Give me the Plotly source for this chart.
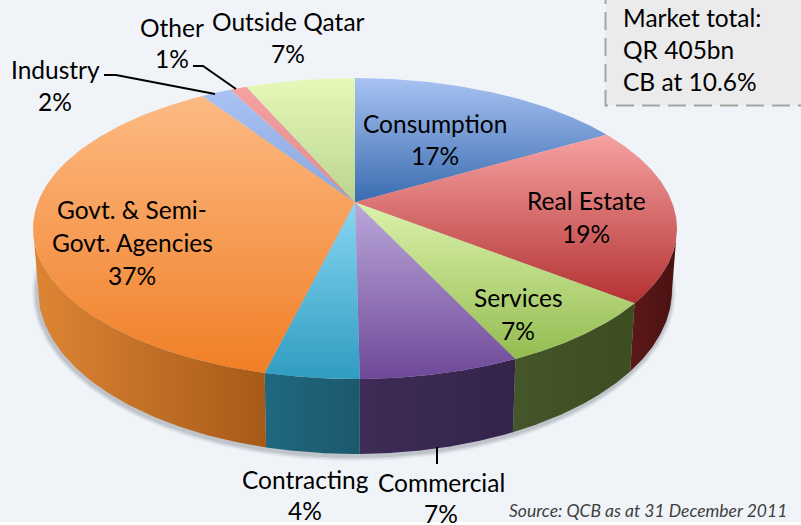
import numpy as np
import plotly.graph_objects as go

# ---- data ----
categories = ["Consumption", "Real Estate", "Services", "Commercial", "Contracting",
              "Govt. & Semi-Govt. Agencies", "Industry", "Other", "Outside Qatar"]
shares = [16.6, 19.0, 7.4, 6.8, 4.0, 36.9, 1.8, 1.0, 6.5]      # drawn slice size (estimated)
shown_pct = [17, 19, 7, 7, 4, 37, 2, 1, 7]                      # printed percentages
top_light = ["#a8c2f2", "#f6a2a2", "#dcf2ac", "#bba8da", "#8ad6f2", "#fdba84", "#a8c2f2", "#f6a2a2", "#e6f9b8"]
top_dark = ["#3a6cb0", "#b43232", "#94bc50", "#6e4898", "#2f9cc0", "#f07f26", "#8aa6dc", "#e08a8a", "#bcd490"]
side_left = ["#5c1818", "#5c1818", "#44562a", "#3e2c56", "#1f6880", "#dd8534", "#888888", "#888888", "#888888"]
side_right = ["#4a1212", "#4a1212", "#3c4d20", "#34244a", "#1c586c", "#a65a18", "#888888", "#888888", "#888888"]

BG = "#f0f4f8"
FONT = "Lato"
CX, CY, A, B = 355, 228.5, 322, 150.5      # upper face
BCY, BA, BB = 290, 317, 164                # lower edge of the rim
TILT = 0.175                               # perspective shift of the pie's apex


def rim_unit(theta):
    """Project clockwise angle (0 = up) through the perspective of the pie."""
    x, y = np.sin(theta), np.cos(theta)
    d = 1 + TILT * y
    return x * np.sqrt(1 - TILT ** 2) / d, (y + TILT) / d


def top_xy(u, v):
    return CX + A * u, CY - B * v


def bottom_xy(u, v):
    return CX + BA * u, BCY - BB * v


fig = go.Figure()

# soft shadow round the rim
t = np.linspace(0, 2 * np.pi, 240)
for grow, alpha in [(5, 0.07), (3.5, 0.10), (2, 0.14)]:
    fig.add_trace(go.Scatter(x=CX + (BA + grow) * np.sin(t) - 1, y=BCY + 2 + (BB + grow) * np.cos(t),
                             mode="lines", line=dict(width=0), fill="toself",
                             fillcolor=f"rgba(70,80,95,{alpha})", hoverinfo="skip"))

fractions = np.array(shares) / np.sum(shares)
edges = np.concatenate([[0], np.cumsum(fractions)]) * 2 * np.pi

# rim
for i in range(len(shares)):
    th = np.linspace(edges[i], edges[i + 1], 160)
    u, v = rim_unit(th)
    keep = v <= 0
    if keep.sum() < 2:
        continue
    tx, ty = top_xy(u[keep], v[keep])
    bx, by = bottom_xy(u[keep], v[keep])
    fig.add_trace(go.Scatter(
        x=np.concatenate([tx, bx[::-1]]), y=np.concatenate([ty, by[::-1]]),
        mode="lines", line=dict(width=0), fill="toself", hoverinfo="skip",
        fillgradient=dict(type="horizontal", colorscale=[[0, side_left[i]], [1, side_right[i]]])))

# upper face
ax, ay = top_xy(0.0, TILT)
for i in range(len(shares)):
    th = np.linspace(edges[i], edges[i + 1], 160)
    u, v = rim_unit(th)
    tx, ty = top_xy(u, v)
    fig.add_trace(go.Scatter(
        x=np.concatenate([[ax], tx, [ax]]), y=np.concatenate([[ay], ty, [ay]]),
        mode="lines", line=dict(width=0), fill="toself", hoverinfo="skip",
        fillgradient=dict(type="vertical", colorscale=[[0, top_dark[i]], [1, top_light[i]]])))

shapes = [
    dict(type="rect", x0=0, x1=801, y0=522, y1=525, fillcolor="#ffffff", line=dict(width=0), layer="above"),
    dict(type="rect", x0=605.5, x1=830, y0=-20, y1=105.5, fillcolor="#ebebeb",
         line=dict(color="#a3a3a3", width=2, dash="18px,8px"), layer="above"),
    dict(type="path", path="M104,75 L116,75 L215,94", line=dict(color="#000000", width=2), layer="above"),
    dict(type="path", path="M193,66 L203,66 L236,89", line=dict(color="#000000", width=2), layer="above"),
    dict(type="line", x0=437, x1=437, y0=447, y1=464, line=dict(color="#000000", width=2), layer="above"),
]


def label(x, y, text, anchor="center", size=24.5, color="#000000", italic=False):
    return dict(x=x, y=y, text=f"<i>{text}</i>" if italic else text, showarrow=False,
                xanchor=anchor, yanchor="middle", font=dict(family=FONT, size=size, color=color))


p = [f"{n}%" for n in shown_pct]
annotations = [
    label(435, 123, categories[0]), label(435, 155, p[0]),
    label(586, 200, categories[1]), label(586, 233, p[1]),
    label(518, 297, categories[2]), label(518, 330, p[2]),
    label(441, 482, categories[3]), label(441, 513, p[3]),
    label(305, 479, categories[4]), label(305, 510, p[4]),
    label(132, 209, "Govt. & Semi-"), label(132, 242, "Govt. Agencies"), label(132, 275, p[5]),
    label(55, 69, categories[6]), label(55, 101, p[6]),
    label(172, 27, categories[7]), label(172, 58, p[7]),
    label(288, 21, categories[8]), label(288, 53, p[8]),
    label(621, 17, "Market total:", "left"), label(621, 49, "QR 405bn", "left"),
    label(621, 81, "CB at 10.6%", "left"),
    label(789, 510, "Source: QCB as at 31 December 2011", "right", 17.5, "#404040", True),
]

fig.update_layout(
    width=801, height=525, margin=dict(l=0, r=0, t=0, b=0), showlegend=False,
    paper_bgcolor=BG, plot_bgcolor=BG, shapes=shapes, annotations=annotations,
    xaxis=dict(range=[0, 801], visible=False, fixedrange=True),
    yaxis=dict(range=[525, 0], visible=False, fixedrange=True),
)
fig.write_html("out.html", config={"displayModeBar": False},
               post_script="document.body.style.margin='0';document.body.style.overflow='hidden';")
